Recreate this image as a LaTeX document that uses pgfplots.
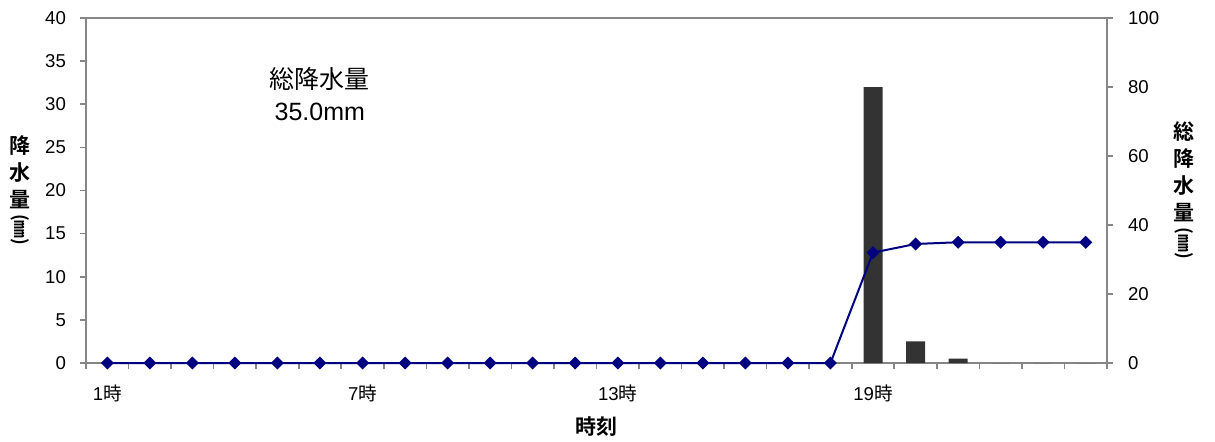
\documentclass[border=0pt]{standalone}
\usepackage{pgfplots}
\pgfplotsset{compat=1.18}
\usepackage{fontspec}
\usepackage{graphicx}
\setmainfont{Liberation Sans}
\newfontfamily\jp{Noto Sans CJK JP}[BoldFont={Noto Sans CJK JP Bold}]
\definecolor{axgray}{RGB}{134,134,134}
\definecolor{barc}{RGB}{51,51,51}
\definecolor{navyc}{RGB}{0,0,128}
\pgfplotstableread{
x rain cum
1 0 0
2 0 0
3 0 0
4 0 0
5 0 0
6 0 0
7 0 0
8 0 0
9 0 0
10 0 0
11 0 0
12 0 0
13 0 0
14 0 0
15 0 0
16 0 0
17 0 0
18 0 0
19 32 32
20 2.5 34.5
21 0.5 35
22 0 35
23 0 35
24 0 35
}\datatable
\newcommand{\vparen}{\scalebox{0.85}{\rotatebox{-90}{(㎜)}}}
\begin{document}
\begin{tikzpicture}
\pgfplotsset{
  base/.style={
    scale only axis, width=510.5pt, height=172.5pt,
    at={(0,0)}, anchor=south west,
    xmin=0.5, xmax=24.5,
    axis line style={axgray, line width=1pt},
    tick style={axgray, line width=0.8pt},
    tick align=outside,
    major tick length=3pt, minor tick length=3pt,
    ticklabel style={font=\fontsize{9.3}{11}\selectfont},
    /pgf/number format/assume math mode=true,
    clip=false,
  }
}
\begin{axis}[base,
  ymin=0, ymax=40, ytick={0,5,...,40},
  yticklabel style={xshift=-3.5pt},
  axis y line*=left, axis x line*=bottom,
  xtick={0.5,1.5,...,24.5},
  xticklabels={},
  extra x ticks={1,7,13,19},
  extra x tick labels={1{\jp 時},7{\jp 時},13{\jp 時},19{\jp 時}},
  extra x tick style={major tick length=0pt, xticklabel style={yshift=-7.5pt}},
  ybar, bar width=9.5pt,
]
\addplot[fill=barc, draw=none] table[x=x, y=rain] {\datatable};
\node[font=\jp\fontsize{12.5}{16}\selectfont, align=center] at (rel axis cs:0.229,0.78) {総降水量\\{\rmfamily 35.0mm}};
\node[font=\jp\bfseries\fontsize{10.5}{13.5}\selectfont, align=center] at (rel axis cs:-0.0646,0.50) {降\\水\\量\\[-10pt]\vparen};
\node[font=\jp\bfseries\fontsize{10.5}{13.5}\selectfont, align=center] at (rel axis cs:1.0754,0.50) {総\\降\\水\\量\\[-10pt]\vparen};
\node[font=\jp\bfseries\fontsize{10.5}{13.5}\selectfont] at (rel axis cs:0.5,-0.1855) {時刻};
\end{axis}
\begin{axis}[base,
  ymin=0, ymax=100, ytick={0,20,...,100},
  yticklabel style={xshift=4pt},
  axis y line*=right, axis x line*=top,
  xtick=\empty,
]
\addplot[navyc, line width=1pt, mark=square*, mark size=1.8pt, mark options={rotate=45, fill=navyc, draw=navyc}] table[x=x, y=cum] {\datatable};
\end{axis}
\pgfresetboundingbox
\useasboundingbox (-43pt,-39pt) rectangle (564.5pt,181.5pt);
\end{tikzpicture}
\end{document}
